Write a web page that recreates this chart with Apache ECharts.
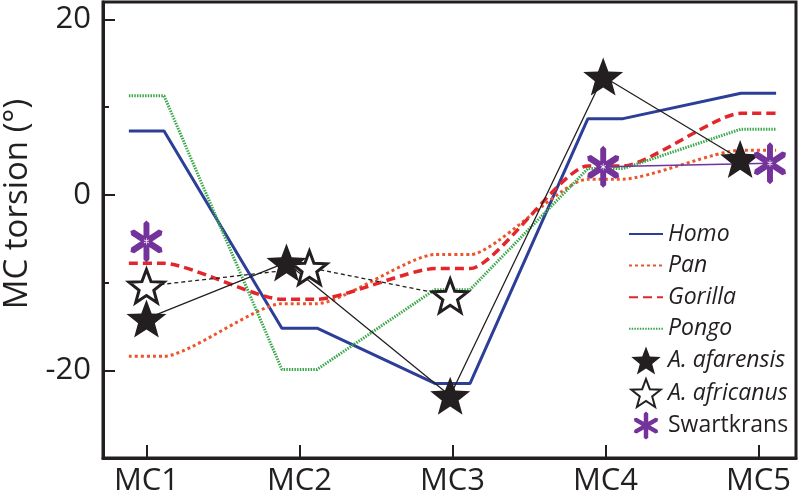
<!DOCTYPE html>
<html><head><meta charset="utf-8">
<script src="https://cdn.jsdelivr.net/npm/echarts@6/dist/echarts.min.js"></script>
<style>html,body{margin:0;padding:0;background:#fff}#c{width:800px;height:498px}</style>
</head><body><div id="c"></div>
<script>
// ---- data ----
const categories = ['MC1', 'MC2', 'MC3', 'MC4', 'MC5'];
const yTickLabels = [-20, 0, 20];
const yMinorTicks = [-10, 10];
const homo    = [7.3, -15.2, -21.5, 8.7, 11.6];
const pan     = [-18.4, -12.4, -6.8, 1.8, 5.1];
const gorilla = [-7.8, -11.9, -8.4, 3.3, 9.3];
const pongo   = [11.3, -19.9, -10.8, 3.0, 7.5];
const afarensis = [-14.1, -7.7, -22.9, 13.5, 4.1];
const africanus = [-10.4, -8.3, -11.5];        // MC1..MC3
const swartkrans = [-5.3, null, null, 3.2, 3.6];

// ---- layout / style constants ----
const PLATEAU = 0.115;
const afarOffset = [0, -0.085, -0.015, -0.015, -0.12];
const afriOffset = [0, 0.065, -0.015];
const swkOffset  = [0, 0, 0, -0.015, 0.075];
const INK = '#231f20';
const FONT = 'Open Sans';
const PURPLE = '#74339a';

function starPath(inner) {
  let d = '';
  for (let k = 0; k < 10; k++) {
    const r = k % 2 === 0 ? 50 : 50 * inner;
    const a = (-90 + k * 36) * Math.PI / 180;
    const x = 50 + r * Math.cos(a), y = 50 + r * Math.sin(a);
    d += (k === 0 ? 'M' : 'L') + x.toFixed(2) + ' ' + y.toFixed(2);
  }
  return 'path://' + d + 'Z';
}
function asteriskPath(w, t) {
  const L = 50;
  let d = '';
  [90, 30, -30].forEach(deg => {
    const a = deg * Math.PI / 180, c = Math.cos(a), s = Math.sin(a);
    const pts = [[L, 0], [L - t, w], [-L + t, w], [-L, 0], [-L + t, -w], [L - t, -w]];
    pts.forEach((p, i) => {
      const x = 50 + p[0] * c - p[1] * s, y = 50 + p[0] * s + p[1] * c;
      d += (i === 0 ? 'M' : 'L') + x.toFixed(2) + ' ' + y.toFixed(2);
    });
    d += 'Z';
  });
  return 'path://' + d;
}
const STAR = starPath(0.42);
const AST = asteriskPath(8, 7);
const AST_THIN = asteriskPath(6, 5);

function plateau(vals) {
  const out = [];
  vals.forEach((v, i) => { out.push([i - PLATEAU, v]); out.push([i + PLATEAU, v]); });
  return out;
}
function pts(vals, offs) {
  const out = [];
  vals.forEach((v, i) => { if (v !== null) out.push([i + offs[i], v]); });
  return out;
}
const HIDE = { color: 'rgba(0,0,0,0)', borderColor: 'rgba(0,0,0,0)', borderWidth: 0 };

const chart = echarts.init(document.getElementById('c'));
chart.setOption({
  animation: false,
  textStyle: { fontFamily: FONT, color: INK },
  grid: { left: 103, right: 4, top: 2, bottom: 40, show: true, borderColor: INK, borderWidth: 3, backgroundColor: 'transparent' },
  xAxis: {
    type: 'value', min: -0.284, max: 4.245,
    splitLine: { show: false },
    axisLine: { onZero: false, lineStyle: { color: INK, width: 3 } },
    axisTick: { inside: true, length: 13, lineStyle: { color: INK, width: 2 }, customValues: [0, 1, 2, 3, 4] },
    axisLabel: { customValues: [0, 1, 2, 3, 4], formatter: v => categories[Math.round(v)], fontSize: 31, color: INK, margin: 8, fontFamily: FONT }
  },
  yAxis: [{
    type: 'value', min: -30, max: 22,
    splitLine: { show: false },
    axisLine: { show: true, onZero: false, lineStyle: { color: INK, width: 3 } },
    axisTick: { inside: true, length: 12, lineStyle: { color: INK, width: 2 }, customValues: yTickLabels },
    axisLabel: { customValues: yTickLabels, fontSize: 31, color: INK, margin: 12, fontFamily: FONT }
  }, {
    type: 'value', min: -30, max: 22, position: 'left',
    splitLine: { show: false },
    axisLine: { show: false, onZero: false },
    axisTick: { show: true, inside: true, length: 6, lineStyle: { color: INK, width: 2 }, customValues: yMinorTicks },
    axisLabel: { show: false }
  }],
  graphic: [{
    type: 'text', x: 18, y: 204, rotation: Math.PI / 2,
    style: { text: 'MC torsion (°)', font: '33px "Open Sans"', fill: INK, align: 'center', verticalAlign: 'middle' }
  }],
  legend: {
    orient: 'vertical', left: 623, top: 215,
    itemWidth: 34, itemHeight: 28, itemGap: 3.6,
    textStyle: { fontSize: 23, fontStyle: 'italic', color: INK, fontFamily: FONT, lineHeight: 28 },
    data: [
      { name: 'Homo', itemStyle: HIDE },
      { name: 'Pan', itemStyle: HIDE },
      { name: 'Gorilla', itemStyle: HIDE },
      { name: 'Pongo', itemStyle: HIDE },
      { name: 'A. afarensis', icon: STAR },
      { name: 'A. africanus', icon: STAR },
      { name: 'Swartkrans', icon: AST, textStyle: { fontStyle: 'normal' } }]
  },
  series: [
    { name: 'Homo', type: 'line', symbol: 'none', z: 2, data: plateau(homo),
      lineStyle: { color: '#2c3e97', width: 3 }, itemStyle: { color: '#2c3e97' } },
    { name: 'Pan', type: 'line', symbol: 'none', z: 2, smooth: 0.2, data: plateau(pan),
      lineStyle: { color: '#ec552b', width: 3, type: [3, 3] }, itemStyle: { color: '#ec552b' } },
    { name: 'Gorilla', type: 'line', symbol: 'none', z: 2, smooth: 0.2, data: plateau(gorilla),
      lineStyle: { color: '#e3262b', width: 3.5, type: [9, 5] }, itemStyle: { color: '#e3262b' } },
    { name: 'Pongo', type: 'line', symbol: 'none', z: 2, data: plateau(pongo),
      lineStyle: { color: '#3aa84a', width: 3, type: [1.5, 1.2] }, itemStyle: { color: '#3aa84a' } },
    { name: 'swk-link', type: 'line', symbol: 'none', z: 3, data: pts(swartkrans, swkOffset).slice(1),
      lineStyle: { color: PURPLE, width: 1.5 } },
    { name: 'A. afarensis', type: 'line', z: 4, data: pts(afarensis, afarOffset),
      symbol: STAR, symbolSize: 40, symbolKeepAspect: true, showAllSymbol: true,
      lineStyle: { color: INK, width: 1.3 }, itemStyle: { color: INK } },
    { name: 'A. africanus', type: 'line', z: 4, data: pts(africanus, afriOffset),
      symbol: STAR, symbolSize: 35, symbolKeepAspect: true, showAllSymbol: true,
      lineStyle: { color: INK, width: 1.3, type: [4, 3] },
      itemStyle: { color: '#fff', borderColor: INK, borderWidth: 3 } },
    { name: 'Swartkrans', type: 'scatter', z: 5, data: pts(swartkrans, swkOffset),
      symbol: AST, symbolSize: [37, 42], symbolKeepAspect: true,
      itemStyle: { color: PURPLE, opacity: 1 } },
    { name: 'swk-center', type: 'scatter', z: 6, silent: true, data: pts(swartkrans, swkOffset),
      symbol: AST_THIN, symbolSize: [6, 7], symbolKeepAspect: true,
      itemStyle: { color: '#f4eefa', opacity: 1 } }
  ]
});
</script></body></html>
